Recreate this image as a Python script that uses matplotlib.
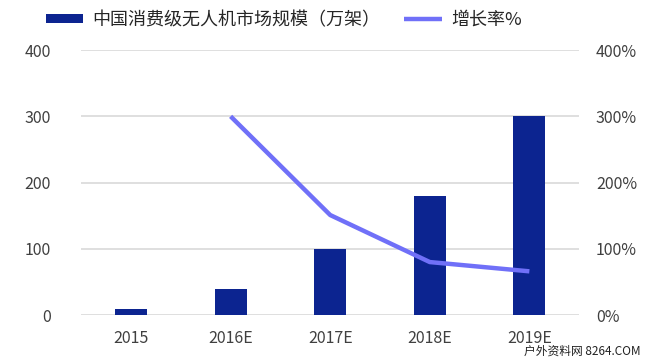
import matplotlib.pyplot as plt
import numpy as np

plt.rcParams['font.family'] = ['Noto Sans CJK SC', 'DejaVu Sans']

years = ['2015', '2016E', '2017E', '2018E', '2019E']
market = [9, 40, 100, 180, 300]
growth_years = ['2016E', '2017E', '2018E', '2019E']
growth = [300, 151, 80, 66]

bar_color = '#0c2490'
line_color = '#7070f8'
text_color = '#404040'

fig = plt.figure(figsize=(6.5, 3.58), dpi=100)
ax = fig.add_axes([0.125, 0.12, 0.766, 0.74])
ax2 = ax.twinx()

x = np.arange(len(years))
ax.bar(x, market, width=0.32, color=bar_color, zorder=3, label='中国消费级无人机市场规模（万架）')
gx = [years.index(g) for g in growth_years]
ax2.plot(gx, growth, color=line_color, lw=3.2, solid_capstyle='butt', label='增长率%')

ax.set_xlim(-0.5, len(years) - 0.5)
ax.set_ylim(0, 400)
ax.set_yticks([0, 100, 200, 300, 400])
ax2.set_ylim(0, 400)
ax2.set_yticks([0, 100, 200, 300, 400])
ax2.set_yticklabels([f'{v}%' for v in [0, 100, 200, 300, 400]])
ax.set_xticks(x)
ax.set_xticklabels(years)

ax.yaxis.grid(True, color='#d9d9d9', lw=1.2, zorder=0)
ax.set_axisbelow(True)
for a in (ax, ax2):
    for s in a.spines.values():
        s.set_visible(False)
    a.tick_params(length=0, labelsize=11.5, colors=text_color)
ax.tick_params(axis='y', pad=22)
ax.tick_params(axis='x', pad=11)
ax2.tick_params(axis='y', pad=12)

h1, l1 = ax.get_legend_handles_labels()
h2, l2 = ax2.get_legend_handles_labels()
fig.legend(h1 + h2, l1 + l2, loc='upper left', bbox_to_anchor=(0.045, 1.015), ncol=2,
           frameon=False, fontsize=13, handlelength=2.1, handleheight=0.45,
           columnspacing=1.3, handletextpad=0.5, labelcolor='#262626')

fig.text(0.985, 0.0, '户外资料网 8264.COM', ha='right', va='bottom', fontsize=8.5, color='#222222')

fig.savefig('out.png', dpi=100)
